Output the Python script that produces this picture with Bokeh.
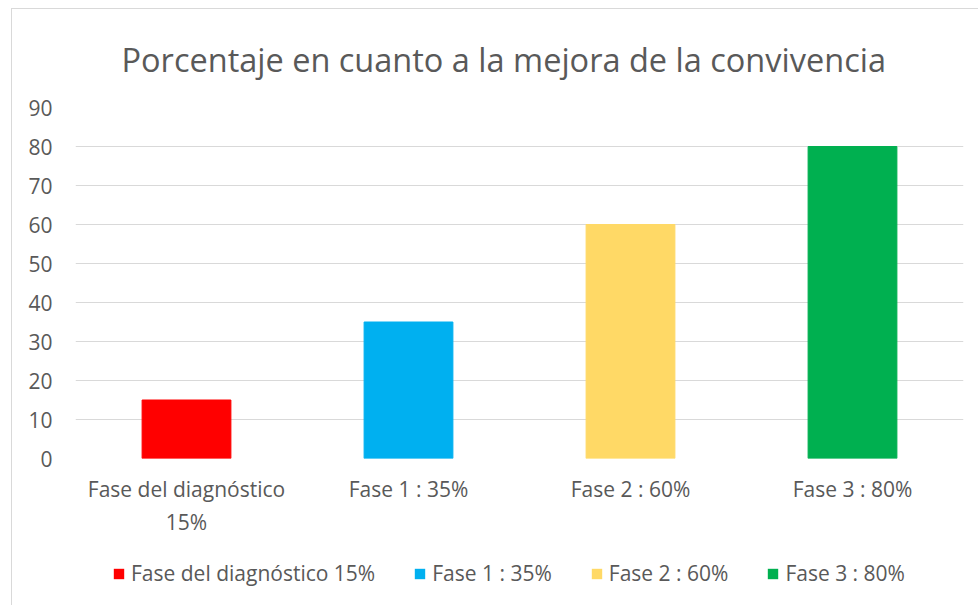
from bokeh.plotting import figure
from bokeh.layouts import column
from bokeh.models import ColumnDataSource, SingleIntervalTicker, FactorRange, Range1d, Legend, LegendItem, Title
from bokeh.embed import file_html
from bokeh.resources import INLINE

categories = ["Fase del diagnóstico 15%", "Fase 1 : 35%", "Fase 2 : 60%", "Fase 3 : 80%"]
tick_labels = ["Fase del diagnóstico\n15%", "Fase 1 : 35%", "Fase 2 : 60%", "Fase 3 : 80%"]
values = [15, 35, 60, 80]
colors = ["#FF0000", "#00B0F0", "#FFD966", "#00B050"]
title_text = "Porcentaje en cuanto a la mejora de la convivencia"

FONT = "Open Sans"
TXT = "#595959"
GRID = "#D9D9D9"

src = ColumnDataSource(dict(cat=tick_labels, val=values, color=colors))

p = figure(x_range=FactorRange(*tick_labels, range_padding=0), y_range=Range1d(0, 90),
           width=966, height=530, output_backend="svg", toolbar_location=None,
           min_border_left=63, min_border_right=15, min_border_top=98, min_border_bottom=81)
p.outline_line_color = None
p.background_fill_color = "white"
p.border_fill_color = "white"

r = p.vbar(x="cat", top="val", width=0.4, color="color", source=src)

# title
t = Title(text=title_text, align="left", offset=46, standoff=51,
          text_font=FONT, text_font_size="32.5px", text_color=TXT, text_font_style="normal")
p.add_layout(t, "above")

# axes
p.yaxis.ticker = SingleIntervalTicker(interval=10)
p.yaxis.axis_line_color = None
p.yaxis.major_tick_line_color = None
p.yaxis.minor_tick_line_color = None
p.yaxis.major_tick_out = 0
p.yaxis.major_label_standoff = 19
p.yaxis.major_label_text_font = FONT
p.yaxis.major_label_text_font_size = "21px"
p.yaxis.major_label_text_color = TXT

p.xaxis.axis_line_color = None
p.xaxis.major_tick_line_color = None
p.xaxis.major_tick_out = 0
p.xaxis.major_label_standoff = 16
p.xaxis.major_label_text_font = FONT
p.xaxis.major_label_text_font_size = "21px"
p.xaxis.major_label_text_color = TXT

p.xgrid.grid_line_color = None
p.ygrid.grid_line_color = GRID
p.ygrid.grid_line_width = 1
p.ygrid.ticker = SingleIntervalTicker(interval=10)

# legend strip (own figure; its bars have zero height and lie far outside its y range)
pl = figure(x_range=p.x_range, y_range=Range1d(1000, 1001), width=966, height=66,
            output_backend="svg", toolbar_location=None, x_axis_location=None, y_axis_location=None,
            min_border_left=63, min_border_right=15, min_border_top=0, min_border_bottom=0)
pl.outline_line_color = None
pl.grid.grid_line_color = None
pl.border_fill_color = "white"
rl = pl.vbar(x="cat", top="val", bottom="val", width=0.4, fill_color="color", line_alpha=0, source=src)

items = [LegendItem(label=c, renderers=[rl], index=i) for i, c in enumerate(categories)]
lg = Legend(items=items, orientation="horizontal", location=(37, 18),
            border_line_color=None, background_fill_alpha=0, padding=0, margin=0,
            spacing=38, glyph_width=13, glyph_height=13, label_standoff=6,
            label_text_font=FONT, label_text_font_size="21px", label_text_color=TXT)
pl.add_layout(lg)

layout = column(p, pl, spacing=0,
                styles={"margin-left": "11px", "margin-top": "8px",
                        "border-left": "1px solid #D9D9D9", "border-top": "1px solid #D9D9D9"})

open("out.html", "w").write(file_html(layout, INLINE))
